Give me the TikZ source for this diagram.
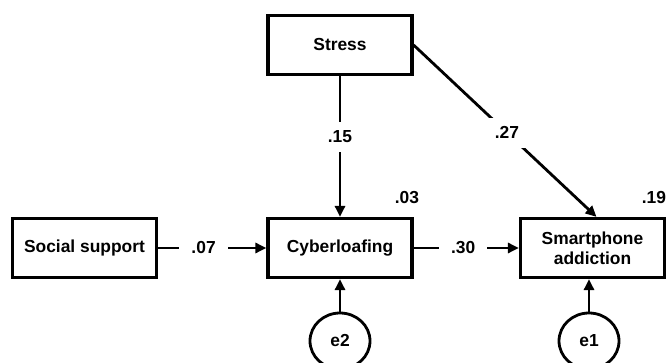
\documentclass[tikz,border=0pt]{standalone}
\usepackage{fontspec}
\setmainfont{Liberation Sans}
\usetikzlibrary{arrows.meta,shapes.geometric}
\begin{document}
\begin{tikzpicture}[x=1pt,y=-1pt,
  every node/.style={font=\fontsize{17.4}{20}\selectfont\bfseries},
  varbox/.style={draw,line width=3.2pt,minimum width=144pt,minimum height=59pt,inner sep=0pt,align=center},
  errell/.style={draw,ellipse,line width=2.8pt,minimum width=60pt,minimum height=56pt,inner sep=0pt},
  path/.style={line width=2.8pt,-{Triangle[length=11pt,width=10pt]}},
  coef/.style={fill=white,inner xsep=12pt,inner ysep=9pt},
  rsq/.style={inner sep=0pt}
]
\useasboundingbox (0,0) rectangle (667,363);
\node[varbox] (stress) at (340,45) {Stress};
\node[varbox] (social) at (84.5,248) {Social support};
\node[varbox] (cyber) at (340,248) {Cyberloafing};
\node[varbox] (smart) at (592.5,248) {Smartphone\\addiction};
\node[errell] (e2) at (340,341) {e2};
\node[errell] (e1) at (589,341) {e1};
\node[rsq] (r1) at (407,198) {.03};
\node[rsq] (r2) at (654,198) {.19};
\draw[path] (stress.south) -- node[coef,pos=0.43] {.15} (cyber.north);
\draw[path] (stress.east) -- node[coef,pos=0.51] {.27} ([xshift=4pt]smart.north);
\draw[path] (social.east) -- node[coef,pos=0.42] {.07} (cyber.west);
\draw[path] (cyber.east) -- node[coef,pos=0.47] {.30} (smart.west);
\draw[path] (e2.north) -- (e2.north |- cyber.south);
\draw[path] (e1.north) -- (e1.north |- smart.south);
\end{tikzpicture}
\end{document}
